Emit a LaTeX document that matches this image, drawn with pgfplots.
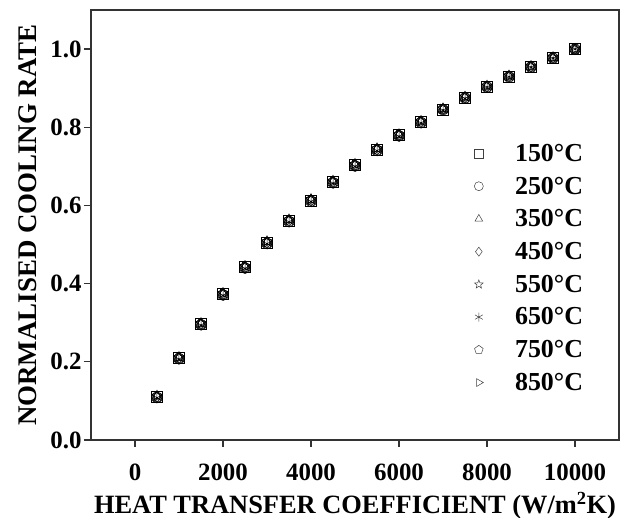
\documentclass[border=0pt]{standalone}
\usepackage{pgfplots}
\pgfplotsset{compat=1.18}
\usepackage{fontspec}
\setmainfont{Liberation Serif}
\usetikzlibrary{plotmarks}

% outlined five-pointed star
\pgfdeclareplotmark{ostar}{%
  \pgfpathmoveto{\pgfpointpolar{90}{\pgfplotmarksize}}%
  \pgfpathlineto{\pgfpointpolar{126}{0.42\pgfplotmarksize}}%
  \pgfpathlineto{\pgfpointpolar{162}{\pgfplotmarksize}}%
  \pgfpathlineto{\pgfpointpolar{198}{0.42\pgfplotmarksize}}%
  \pgfpathlineto{\pgfpointpolar{234}{\pgfplotmarksize}}%
  \pgfpathlineto{\pgfpointpolar{270}{0.42\pgfplotmarksize}}%
  \pgfpathlineto{\pgfpointpolar{306}{\pgfplotmarksize}}%
  \pgfpathlineto{\pgfpointpolar{342}{0.42\pgfplotmarksize}}%
  \pgfpathlineto{\pgfpointpolar{18}{\pgfplotmarksize}}%
  \pgfpathlineto{\pgfpointpolar{54}{0.42\pgfplotmarksize}}%
  \pgfpathclose
  \pgfusepathqstroke}

\begin{document}
\begin{tikzpicture}[x=1bp,y=1bp]
\begin{axis}[
  name=ax,
  scale only axis,
  width=528bp, height=430bp,
  xmin=-1000, xmax=11000,
  ymin=0, ymax=1.1,
  xtick={0,2000,4000,6000,8000,10000},
  ytick={0,0.2,0.4,0.6,0.8,1.0},
  scaled ticks=false,
  xtick pos=left, ytick pos=left,
  tick align=outside,
  major tick length=7bp,
  axis line style={line width=1.4bp, black!80},
  every tick/.style={line width=1.2bp, black!80},
  /pgf/number format/assume math mode=true,
  /pgf/number format/1000 sep={},
  yticklabel style={/pgf/number format/fixed, /pgf/number format/precision=1,
    /pgf/number format/fixed zerofill, xshift=1bp},
  ticklabel style={font=\bfseries\fontsize{25}{25}\selectfont, text=black},
  xticklabel style={yshift=-16bp, inner sep=1bp},
  xlabel={HEAT TRANSFER COEFFICIENT (W/m\textsuperscript{2}K)},
  ylabel={NORMALISED COOLING RATE},
  every axis x label/.style={at={(axis description cs:0.5,0)}, anchor=base,
    yshift=-73bp, inner sep=1bp, font=\bfseries\fontsize{26.5}{26.5}\selectfont},
  every axis y label/.style={at={(axis description cs:0,0.5)}, anchor=center,
    rotate=90, yshift=63bp, font=\bfseries\fontsize{27}{27}\selectfont},
  every axis plot/.append style={only marks, black, mark size=5.5bp, line width=0.5bp},
  legend style={draw=none, fill=none, at={(axis cs:7600,0.765)}, anchor=north west,
    font=\bfseries\fontsize{26}{26}\selectfont, row sep=12bp,
    nodes={inner sep=1bp}},
  legend cell align=left,
  legend image code/.code={%
    \path (0bp,0bp) (41bp,0bp);
    \draw[mark size=4.5bp, line width=0.5bp, black!75] plot coordinates {(6bp,0bp)};},
]
\addplot[mark=square] coordinates {
(500,0.111)(1000,0.210)(1500,0.297)(2000,0.373)(2500,0.442)(3000,0.505)(3500,0.561)
(4000,0.613)(4500,0.660)(5000,0.703)(5500,0.743)(6000,0.780)(6500,0.814)(7000,0.846)
(7500,0.876)(8000,0.904)(8500,0.930)(9000,0.955)(9500,0.978)(10000,1.000)};
\addlegendentry{150°C}
\addplot[mark=o] coordinates {
(500,0.109)(1000,0.208)(1500,0.295)(2000,0.371)(2500,0.440)(3000,0.503)(3500,0.559)
(4000,0.611)(4500,0.658)(5000,0.701)(5500,0.741)(6000,0.778)(6500,0.812)(7000,0.845)
(7500,0.875)(8000,0.903)(8500,0.929)(9000,0.954)(9500,0.977)(10000,1.000)};
\addlegendentry{250°C}
\addplot[mark=triangle] coordinates {
(500,0.112)(1000,0.211)(1500,0.298)(2000,0.375)(2500,0.444)(3000,0.507)(3500,0.563)
(4000,0.615)(4500,0.662)(5000,0.705)(5500,0.745)(6000,0.781)(6500,0.815)(7000,0.847)
(7500,0.877)(8000,0.905)(8500,0.931)(9000,0.956)(9500,0.978)(10000,1.000)};
\addlegendentry{350°C}
\addplot[mark=diamond] coordinates {
(500,0.110)(1000,0.209)(1500,0.296)(2000,0.372)(2500,0.441)(3000,0.504)(3500,0.560)
(4000,0.612)(4500,0.659)(5000,0.702)(5500,0.742)(6000,0.779)(6500,0.813)(7000,0.846)
(7500,0.876)(8000,0.904)(8500,0.930)(9000,0.955)(9500,0.977)(10000,1.000)};
\addlegendentry{450°C}
\addplot[mark=ostar] coordinates {
(500,0.113)(1000,0.212)(1500,0.299)(2000,0.376)(2500,0.445)(3000,0.508)(3500,0.564)
(4000,0.616)(4500,0.663)(5000,0.706)(5500,0.746)(6000,0.782)(6500,0.816)(7000,0.848)
(7500,0.878)(8000,0.906)(8500,0.932)(9000,0.956)(9500,0.979)(10000,1.000)};
\addlegendentry{550°C}
\addplot[mark=asterisk] coordinates {
(500,0.108)(1000,0.207)(1500,0.294)(2000,0.370)(2500,0.439)(3000,0.502)(3500,0.558)
(4000,0.610)(4500,0.657)(5000,0.700)(5500,0.740)(6000,0.777)(6500,0.811)(7000,0.844)
(7500,0.874)(8000,0.903)(8500,0.929)(9000,0.954)(9500,0.977)(10000,1.000)};
\addlegendentry{650°C}
\addplot[mark=pentagon] coordinates {
(500,0.110)(1000,0.210)(1500,0.296)(2000,0.373)(2500,0.442)(3000,0.505)(3500,0.561)
(4000,0.613)(4500,0.660)(5000,0.703)(5500,0.743)(6000,0.780)(6500,0.814)(7000,0.846)
(7500,0.876)(8000,0.904)(8500,0.930)(9000,0.955)(9500,0.978)(10000,1.000)};
\addlegendentry{750°C}
\addplot[mark=triangle, mark options={rotate=-90}] coordinates {
(500,0.112)(1000,0.211)(1500,0.298)(2000,0.374)(2500,0.443)(3000,0.506)(3500,0.562)
(4000,0.614)(4500,0.661)(5000,0.704)(5500,0.744)(6000,0.781)(6500,0.815)(7000,0.847)
(7500,0.877)(8000,0.905)(8500,0.931)(9000,0.956)(9500,0.978)(10000,1.000)};
\addlegendentry{850°C}
\end{axis}
\pgfresetboundingbox
\path ([shift={(-91bp,-78bp)}]ax.south west) rectangle ([shift={(8bp,10bp)}]ax.north east);
\end{tikzpicture}
\end{document}
